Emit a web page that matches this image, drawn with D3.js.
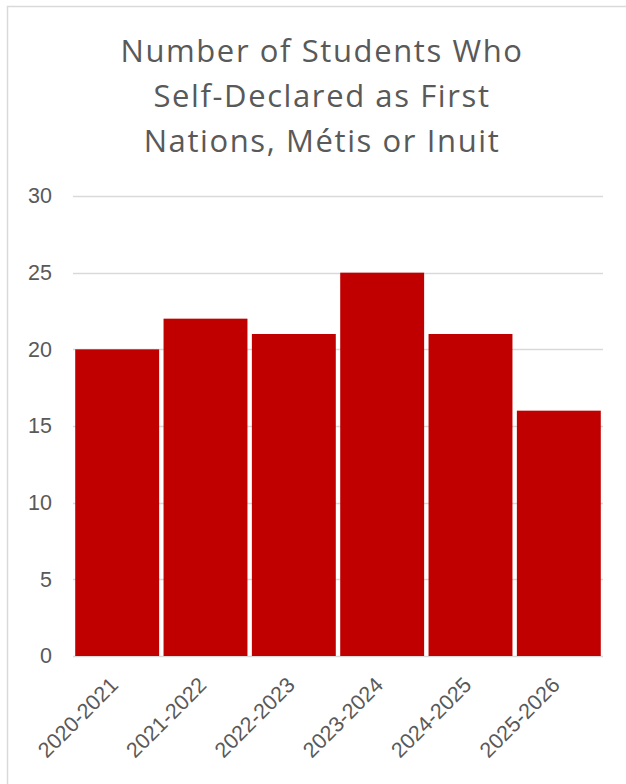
<!DOCTYPE html>
<html>
<head>
<meta charset="utf-8">
<script src="https://cdn.jsdelivr.net/npm/d3@7/dist/d3.min.js"></script>
<style>
  html, body { margin: 0; padding: 0; background: #fff; }
  svg { display: block; }
</style>
</head>
<body>
<svg id="chart" width="626" height="784"></svg>
<script>
// School years and self-declared student counts
const years = ["2020-2021", "2021-2022", "2022-2023", "2023-2024", "2024-2025", "2025-2026"];
const students = [20, 22, 21, 25, 21, 16];
const yTicks = [0, 5, 10, 15, 20, 25, 30];
const titleLines = ["Number of Students Who", "Self-Declared as First", "Nations, Métis or Inuit"];

const svg = d3.select("#chart");
const plot = { left: 73, right: 603, top: 196, bottom: 656 };

// Chart frame (runs past the right and bottom edges)
svg.append("rect")
  .attr("x", 7.5).attr("y", 6.5)
  .attr("width", 700).attr("height", 900)
  .attr("fill", "#fff")
  .attr("stroke", "#d9d9d9")
  .attr("stroke-width", 1.5);

// Title
const title = svg.append("text")
  .attr("text-anchor", "middle")
  .attr("fill", "#595959")
  .style("font-family", "'Open Sans', sans-serif")
  .style("font-size", "31px")
  .style("letter-spacing", "1.6px");
titleLines.forEach((line, i) => {
  title.append("tspan")
    .attr("x", 322)
    .attr("y", 62 + i * 45)
    .text(line);
});

const x = d3.scaleBand()
  .domain(years)
  .range([plot.left, plot.right])
  .paddingInner(0.05)
  .paddingOuter(0.025);

const y = d3.scaleLinear()
  .domain([0, 30])
  .range([plot.bottom, plot.top]);

// Horizontal gridlines
svg.append("g")
  .selectAll("line")
  .data(yTicks)
  .join("line")
  .attr("x1", plot.left).attr("x2", plot.right)
  .attr("y1", d => Math.round(y(d)) + 0.5)
  .attr("y2", d => Math.round(y(d)) + 0.5)
  .attr("stroke", "#d9d9d9")
  .attr("stroke-width", 1.5);

// Bars
svg.append("g")
  .selectAll("rect")
  .data(years)
  .join("rect")
  .attr("x", d => x(d))
  .attr("width", x.bandwidth())
  .attr("y", (d, i) => y(students[i]))
  .attr("height", (d, i) => y(0) - y(students[i]))
  .attr("fill", "#c00000");

// Y axis labels
const yAxis = d3.axisLeft(y).tickValues(yTicks).tickSize(0).tickPadding(0);
svg.append("g")
  .attr("transform", `translate(${plot.left - 21},0)`)
  .call(yAxis)
  .call(g => g.select(".domain").remove())
  .selectAll("text")
  .attr("fill", "#595959")
  .style("font-family", "'Liberation Sans', Arial, sans-serif")
  .style("font-size", "21.5px");

// X axis labels, rotated
const xAxis = d3.axisBottom(x).tickSize(0).tickPadding(0);
svg.append("g")
  .attr("transform", `translate(0,${plot.bottom})`)
  .call(xAxis)
  .call(g => g.select(".domain").remove())
  .selectAll("text")
  .attr("fill", "#595959")
  .style("font-family", "'Liberation Sans', Arial, sans-serif")
  .style("font-size", "21.5px")
  .attr("text-anchor", "end")
  .attr("dy", "0.35em")
  .attr("transform", "translate(-3,25) rotate(-45)");
</script>
</body>
</html>
